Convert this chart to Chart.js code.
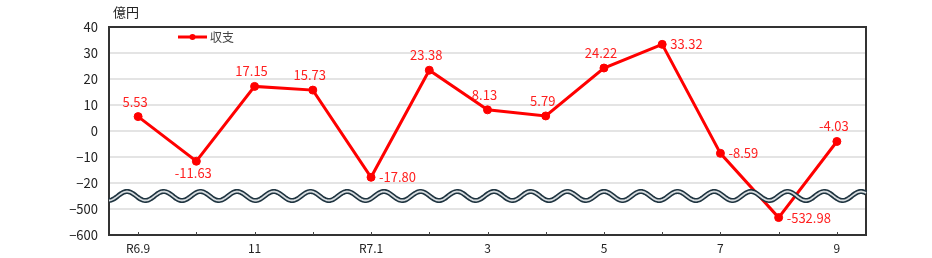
<!DOCTYPE html>
<html>
<head>
<meta charset="utf-8">
<script src="https://cdn.jsdelivr.net/npm/chart.js@4"></script>
<style>
  html, body { margin: 0; padding: 0; background: #fff; }
  #wrap { width: 932px; height: 258px; }
</style>
</head>
<body>
<div id="wrap"><canvas id="balance"></canvas></div>
<script>
const labels = ['R6.9', '10', '11', '12', 'R7.1', '2', '3', '4', '5', '6', '7', '8', '9'];
const balance = [5.53, -11.63, 17.15, 15.73, -17.80, 23.38, 8.13, 5.79, 24.22, 33.32, -8.59, -532.98, -4.03];
const yTicks = [40, 30, 20, 10, 0, -10, -20, -500, -600];
const labelSide = ['top', 'bottom', 'top', 'top', 'right', 'top', 'top', 'top', 'top', 'right', 'right', 'right', 'top'];

// broken axis: below -20 the scale jumps, -500 sits at -30 and -600 at -40
function toAxis(v) {
    return v >= -25 ? v : -30 + (v + 500) / 10;
}
function fromAxis(v) {
    return v >= -25 ? v : (v + 30) * 10 - 500;
}

const font = '"Noto Sans CJK JP", "Noto Sans", sans-serif';

const frame = {
    id: 'frame',
    beforeDatasetsDraw(chart) {
        const { ctx, chartArea: a } = chart;
        ctx.save();
        ctx.strokeStyle = '#333';
        ctx.lineWidth = 2;
        ctx.strokeRect(a.left, a.top, a.right - a.left, a.bottom - a.top);
        // small ticks at each month
        const x = chart.scales.x;
        ctx.strokeStyle = '#444';
        ctx.lineWidth = 1;
        labels.forEach((l, i) => {
            const px = Math.round(x.getPixelForValue(i)) + 0.5;
            ctx.beginPath();
            ctx.moveTo(px, a.bottom);
            ctx.lineTo(px, a.bottom - 3);
            ctx.stroke();
        });
        ctx.fillStyle = '#222';
        ctx.font = '13px ' + font;
        ctx.textAlign = 'left';
        ctx.textBaseline = 'middle';
        ctx.fillText('億円', a.left + 4, 12);
        ctx.restore();
    },
    afterDatasetsDraw(chart) {
        const { ctx, chartArea: a } = chart;
        const y = chart.scales.y;
        const mid = (y.getPixelForValue(-20) + y.getPixelForValue(-30)) / 2;
        ctx.save();
        const wave = () => {
            ctx.beginPath();
            for (let px = a.left; px <= a.right; px += 1) {
                const py = mid - 4.5 * Math.cos(2 * Math.PI * (px - a.left - 18) / 36.7);
                if (px === a.left) ctx.moveTo(px, py); else ctx.lineTo(px, py);
            }
            ctx.stroke();
        };
        ctx.strokeStyle = '#1f3440';
        ctx.lineWidth = 5;
        wave();
        ctx.strokeStyle = '#d8dde0';
        ctx.lineWidth = 1.8;
        wave();

        // point labels
        const meta = chart.getDatasetMeta(0);
        ctx.fillStyle = '#ff2020';
        ctx.font = '13px ' + font;
        ctx.textBaseline = 'middle';
        meta.data.forEach((pt, i) => {
            const t = balance[i].toFixed(2);
            const side = labelSide[i];
            if (side === 'top') {
                ctx.textAlign = 'center';
                ctx.fillText(t, pt.x - 3, pt.y - 15);
            } else if (side === 'bottom') {
                ctx.textAlign = 'center';
                ctx.fillText(t, pt.x - 3, pt.y + 12);
            } else {
                ctx.textAlign = 'left';
                ctx.fillText(t, pt.x + 8, pt.y);
            }
        });
        ctx.restore();
    }
};

new Chart(document.getElementById('balance'), {
    type: 'line',
    data: {
        labels: labels,
        datasets: [{
            label: '収支',
            data: balance.map(toAxis),
            borderColor: '#ff0000',
            backgroundColor: '#ff0000',
            borderWidth: 3,
            pointRadius: 4,
            pointBorderWidth: 1,
            pointHoverRadius: 4,
            tension: 0
        }]
    },
    options: {
        responsive: true,
        maintainAspectRatio: false,
        animation: false,
        layout: { padding: { top: 27, right: 66, left: 0, bottom: 0 } },
        plugins: {
            legend: { display: false },
            tooltip: { enabled: false }
        },
        scales: {
            x: {
                offset: true,
                grid: { display: false, drawTicks: false },
                border: { display: false },
                ticks: {
                    color: '#222',
                    font: { family: font, size: 12 },
                    padding: 6,
                    maxRotation: 0,
                    autoSkip: false,
                    callback: (v, i) => (i % 2 === 0 ? labels[i] : '')
                },
                afterFit(s) { s.height = 23; }
            },
            y: {
                min: -40,
                max: 40,
                afterBuildTicks(s) { s.ticks = yTicks.map(t => ({ value: toAxis(t) })); },
                grid: { color: '#e4e4e4', lineWidth: 2, drawTicks: false },
                border: { display: false },
                ticks: {
                    color: '#222',
                    font: { family: font, size: 13 },
                    padding: 11,
                    callback: v => String(Math.round(fromAxis(v))).replace('-', '−')
                },
                afterFit(s) { s.width = 109; }
            }
        }
    },
    plugins: [frame, {
        id: 'legendLine',
        afterDraw(chart) {
            const { ctx } = chart;
            ctx.save();
            ctx.strokeStyle = '#ff0000';
            ctx.fillStyle = '#ff0000';
            ctx.lineWidth = 3;
            ctx.beginPath();
            ctx.moveTo(178, 37);
            ctx.lineTo(207, 37);
            ctx.stroke();
            ctx.beginPath();
            ctx.arc(192.5, 37, 3, 0, Math.PI * 2);
            ctx.fill();
            ctx.fillStyle = '#444';
            ctx.font = '12px ' + font;
            ctx.textBaseline = 'middle';
            ctx.fillText('収支', 210, 37);
            ctx.restore();
        }
    }]
});
</script>
</body>
</html>
